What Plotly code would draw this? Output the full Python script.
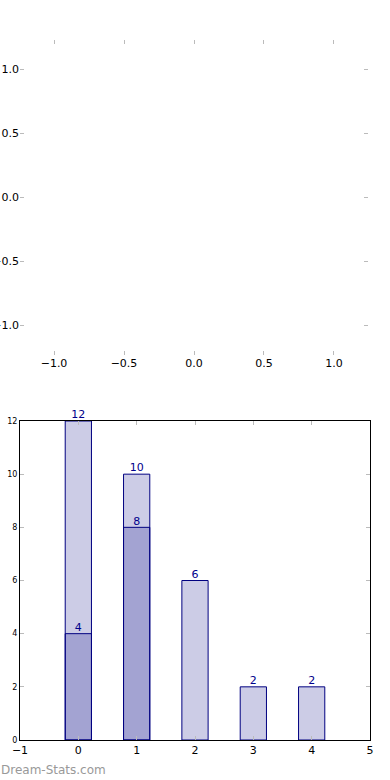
import plotly.graph_objects as go

# Data
categories = [0, 1, 2, 3, 4]
back_values = [12, 10, 6, 2, 2]
front_x = [0, 1]
front_values = [4, 8]

top_xticks = [-1.0, -0.5, 0.0, 0.5, 1.0]
top_yticks = [-1.0, -0.5, 0.0, 0.5, 1.0]
bottom_xticks = [-1, 0, 1, 2, 3, 4, 5]
bottom_yticks = [0, 2, 4, 6, 8, 10, 12]

W, H = 390, 780
fill = "rgba(0,0,128,0.2)"
edge = "#000080"
label_color = "#00008B"
font = "DejaVu Sans"

fig = go.Figure()

fig.add_trace(go.Scatter(x=[None], y=[None], xaxis="x", yaxis="y", showlegend=False))

fig.add_trace(go.Bar(x=categories, y=back_values, width=0.45, marker=dict(color=fill, line=dict(color=edge, width=1)),
                     xaxis="x2", yaxis="y2", showlegend=False, hoverinfo="skip"))
fig.add_trace(go.Bar(x=front_x, y=front_values, width=0.45, marker=dict(color=fill, line=dict(color=edge, width=1)),
                     xaxis="x2", yaxis="y2", showlegend=False, hoverinfo="skip"))
fig.add_trace(go.Scatter(x=categories, y=back_values, mode="text", text=[str(v) for v in back_values],
                         textposition="top center", textfont=dict(color=label_color, size=11, family=font),
                         xaxis="x2", yaxis="y2", showlegend=False, cliponaxis=False, hoverinfo="skip"))
fig.add_trace(go.Scatter(x=front_x, y=front_values, mode="text", text=[str(v) for v in front_values],
                         textposition="top center", textfont=dict(color=label_color, size=11, family=font),
                         xaxis="x2", yaxis="y2", showlegend=False, cliponaxis=False, hoverinfo="skip"))

tickcolor = "#bbbbbb"
common = dict(ticks="inside", ticklen=4, tickwidth=1, tickcolor=tickcolor, showgrid=False,
              zeroline=False, automargin=False)

fig.update_layout(
    width=W, height=H,
    margin=dict(l=0, r=0, t=0, b=0, pad=0),
    paper_bgcolor="white", plot_bgcolor="white",
    barmode="overlay",
    font=dict(family=font, color="black"),
    xaxis=dict(domain=[20 / W, 368 / W], range=[-1.243, 1.243], anchor="y",
               tickvals=top_xticks, ticktext=["\u22121.0", "\u22120.5", "0.0", "0.5", "1.0"],
               showline=False, mirror="ticks", tickfont=dict(size=11), **common),
    yaxis=dict(domain=[(H - 355) / H, (H - 40) / H], range=[-1.23, 1.23], anchor="x",
               tickvals=top_yticks, ticktext=["\u22121.0", "\u22120.5", "0.0", "0.5", "1.0"],
               showline=False, mirror="ticks", tickfont=dict(size=11), **common),
    xaxis2=dict(domain=[20 / W, 370 / W], range=[-1, 5], anchor="y2",
                tickvals=bottom_xticks, ticktext=["\u22121", "0", "1", "2", "3", "4", "5"],
                showline=True, linecolor="black", linewidth=1, mirror="ticks",
                tickfont=dict(size=11), **common),
    yaxis2=dict(domain=[(H - 740) / H, (H - 421) / H], range=[0, 12], anchor="x2",
                tickvals=bottom_yticks, showline=True, linecolor="black", linewidth=1, mirror="ticks",
                tickfont=dict(size=8), **common),
    annotations=[dict(text="Dream-Stats.com", xref="paper", yref="paper", x=-0.003, y=(H - 770) / H,
                      xanchor="left", yanchor="middle", showarrow=False,
                      font=dict(size=12, color="#999999", family=font))],
)

fig.write_html("out.html", config={"displayModeBar": False},
               post_script="document.body.style.margin='0';document.body.style.overflow='hidden';")
